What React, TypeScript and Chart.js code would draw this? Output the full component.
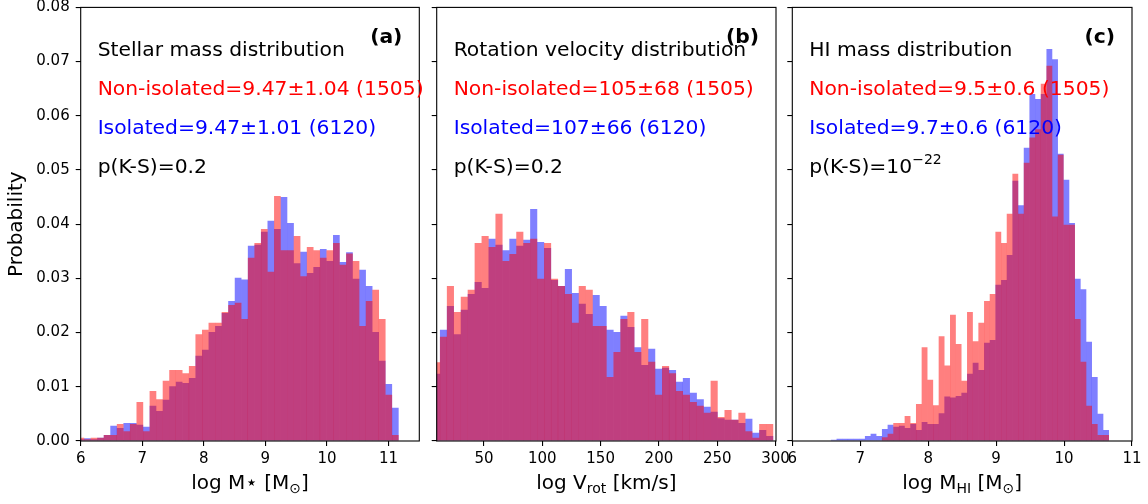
import React, { useEffect, useRef } from 'react';
import { Chart, registerables } from 'chart.js';

Chart.register(...registerables);

const FONT = "'DejaVu Sans', sans-serif";

// ---------- data ----------
// (a) stellar mass histogram
const massBinStart = 5.95;
const massBinWidth = 0.1064;
const massNonIsolated = [
  0.0006, 0.0003, 0.0006, 0.0006, 0.0011, 0.0011, 0.0031, 0.0018, 0.0031, 0.0072,
  0.0018, 0.0092, 0.0077, 0.0111, 0.0131, 0.0131, 0.0125, 0.0138, 0.0197, 0.0205,
  0.0218, 0.0218, 0.0238, 0.0251, 0.0255, 0.0225, 0.0338, 0.0365, 0.0391, 0.0312,
  0.0452, 0.0352, 0.0352, 0.0378, 0.0304, 0.0358, 0.0352, 0.0338, 0.0352, 0.0365,
  0.0325, 0.0346, 0.0332, 0.0212, 0.0258, 0.0279, 0.0225, 0.0085, 0.0011,
];
const massIsolated = [
  0.0003, 0.0005, 0.0003, 0.0006, 0.0011, 0.0028, 0.0024, 0.0033, 0.0033, 0.0030,
  0.0026, 0.0065, 0.0055, 0.0076, 0.0101, 0.0109, 0.0107, 0.0116, 0.0157, 0.0168,
  0.0201, 0.0212, 0.0236, 0.0258, 0.0301, 0.0298, 0.0360, 0.0362, 0.0386, 0.0406,
  0.0391, 0.0450, 0.0402, 0.0328, 0.0349, 0.0310, 0.0321, 0.0354, 0.0332, 0.0380,
  0.0330, 0.0348, 0.0299, 0.0316, 0.0286, 0.0201, 0.0148, 0.0105, 0.0061,
];

// (b) rotation velocity histogram
const vrotBinStart = 6.31;
const vrotBinWidth = 5.952;
const vrotNonIsolated = [
  0.0145, 0.0192, 0.0286, 0.0238, 0.0266, 0.0279, 0.0365, 0.0378, 0.0358, 0.0419,
  0.0332, 0.0345, 0.0386, 0.0365, 0.0373, 0.0299, 0.0365, 0.0299, 0.0286, 0.0271,
  0.0218, 0.0286, 0.0279, 0.0212, 0.0212, 0.0118, 0.0164, 0.0225, 0.0238, 0.0164,
  0.0225, 0.0146, 0.0085, 0.0138, 0.0125, 0.0092, 0.0085, 0.0072, 0.0065, 0.0052,
  0.0111, 0.0044, 0.0057, 0.0039, 0.0052, 0.0018, 0.0006, 0.0031, 0.0031,
];
const vrotIsolated = [
  0.0124, 0.0205, 0.0249, 0.0197, 0.0242, 0.0271, 0.0293, 0.0282, 0.0373, 0.0362,
  0.0352, 0.0373, 0.0360, 0.0371, 0.0428, 0.0367, 0.0356, 0.0297, 0.0286, 0.0317,
  0.0273, 0.0253, 0.0234, 0.0269, 0.0249, 0.0205, 0.0201, 0.0231, 0.0210, 0.0173,
  0.0140, 0.0170, 0.0133, 0.0135, 0.0131, 0.0109, 0.0116, 0.0089, 0.0077, 0.0063,
  0.0054, 0.0042, 0.0039, 0.0039, 0.0033, 0.0041, 0.0015, 0.0020, 0.0009,
];

// (c) HI mass histogram
const hiBinStart = 6.569;
const hiBinWidth = 0.0835;
const hiNonIsolated = [
  0, 0, 0, 0, 0, 0, 0, 0, 0, 0.0007,
  0.0013, 0.0033, 0.0033, 0.0046, 0.0033, 0.0068, 0.0173, 0.0113, 0.0066, 0.0193,
  0.0139, 0.0233, 0.0179, 0.0111, 0.0238, 0.0184, 0.0218, 0.0258, 0.0271, 0.0386,
  0.0365, 0.0419, 0.0493, 0.0419, 0.0513, 0.0560, 0.0575, 0.0659, 0.0692, 0.0414,
  0.0528, 0.0399, 0.0399, 0.0225, 0.0146, 0.0065, 0.0031, 0.0011, 0.0011,
];
const hiIsolated = [
  0.0002, 0.0004, 0.0004, 0.0004, 0.0004, 0.0004, 0.0009, 0.0013, 0.0009, 0.0022,
  0.0030, 0.0026, 0.0028, 0.0024, 0.0031, 0.0020, 0.0035, 0.0031, 0.0031, 0.0051,
  0.0082, 0.0080, 0.0083, 0.0089, 0.0124, 0.0144, 0.0131, 0.0181, 0.0186, 0.0288,
  0.0297, 0.0343, 0.0480, 0.0435, 0.0541, 0.0640, 0.0631, 0.0640, 0.0723, 0.0704,
  0.0530, 0.0482, 0.0402, 0.0299, 0.0280, 0.0183, 0.0118, 0.0050, 0.0020,
];

// axis ranges / ticks
const yMin = 0;
const yMax = 0.08;
const yStep = 0.01;
const massRange = [6, 11.5];
const vrotRange = [9.43, 300.4];
const hiRange = [6, 11];
const massTickStep = 1;
const vrotTickStep = 50;
const hiTickStep = 1;

// texts
const massLines = ['Stellar mass distribution', 'Non-isolated=9.47±1.04 (1505)', 'Isolated=9.47±1.01 (6120)', 'p(K-S)=0.2'];
const vrotLines = ['Rotation velocity distribution', 'Non-isolated=105±68 (1505)', 'Isolated=107±66 (6120)', 'p(K-S)=0.2'];
const hiLines = ['HI mass distribution', 'Non-isolated=9.5±0.6 (1505)', 'Isolated=9.7±0.6 (6120)', 'p(K-S)=10'];
const hiPExponent = '−22';
const yTitle = 'Probability';

// ---------- layout / style ----------
const W = 1148;
const H = 504;
const AREA_TOP = 7.4;
const AREA_BOTTOM = 441;
const Y_AXIS_W = 50;
const X_AXIS_H = 40;
const TEXT_SIZE = 20.3;
const RED = 'rgba(255,0,0,0.5)';
const BLUE = 'rgba(0,0,255,0.5)';
const LINE_COLORS = ['#000000', '#ff0000', '#0000ff', '#000000'];
const LINE_BASELINES = [56, 95, 134, 173];

type Run = { t: string; s: number; dy?: number; bold?: boolean };

function drawRuns(ctx: CanvasRenderingContext2D, x: number, y: number, runs: Run[], align: 'left' | 'center' | 'right', color: string) {
  const widths = runs.map((r) => {
    ctx.font = `${r.bold ? 'bold ' : ''}${r.s}px ${FONT}`;
    return ctx.measureText(r.t).width;
  });
  const total = widths.reduce((a, b) => a + b, 0);
  let cx = align === 'center' ? x - total / 2 : align === 'right' ? x - total : x;
  ctx.textAlign = 'left';
  ctx.textBaseline = 'alphabetic';
  ctx.fillStyle = color;
  runs.forEach((r, i) => {
    ctx.font = `${r.bold ? 'bold ' : ''}${r.s}px ${FONT}`;
    ctx.fillText(r.t, cx, y + (r.dy || 0));
    cx += widths[i];
  });
}

interface PanelDef {
  start: number;
  width: number;
  red: number[];
  blue: number[];
  range: number[];
  step: number;
  left: number;
  right: number;
  showY: boolean;
  letter: string;
  lines: string[];
  exponent?: string;
  xTitle: Run[];
}

const panels: PanelDef[] = [
  {
    start: massBinStart, width: massBinWidth, red: massNonIsolated, blue: massIsolated,
    range: massRange, step: massTickStep, left: 80.7, right: 419.3, showY: true, letter: '(a)', lines: massLines,
    xTitle: [{ t: 'log M', s: 20 }, { t: '⋆', s: 20 }, { t: ' [M', s: 20 }, { t: '⊙', s: 14, dy: 4 }, { t: ']', s: 20 }],
  },
  {
    start: vrotBinStart, width: vrotBinWidth, red: vrotNonIsolated, blue: vrotIsolated,
    range: vrotRange, step: vrotTickStep, left: 436.7, right: 776, showY: false, letter: '(b)', lines: vrotLines,
    xTitle: [{ t: 'log V', s: 20 }, { t: 'rot', s: 14, dy: 4 }, { t: ' [km/s]', s: 20 }],
  },
  {
    start: hiBinStart, width: hiBinWidth, red: hiNonIsolated, blue: hiIsolated,
    range: hiRange, step: hiTickStep, left: 792.3, right: 1132, showY: false, letter: '(c)', lines: hiLines,
    exponent: hiPExponent,
    xTitle: [{ t: 'log M', s: 20 }, { t: 'HI', s: 14, dy: 4 }, { t: ' [M', s: 20 }, { t: '⊙', s: 14, dy: 4 }, { t: ']', s: 20 }],
  },
];

function Panel({ def }: { def: PanelDef }) {
  const ref = useRef<HTMLCanvasElement | null>(null);
  useEffect(() => {
    if (!ref.current) return;
    const centers = def.red.map((_, i) => def.start + (i + 0.5) * def.width);
    const zeroPad = (scale: any) => {
      scale.paddingLeft = 0;
      scale.paddingRight = 0;
      scale.paddingTop = 0;
      scale.paddingBottom = 0;
    };
    const deco = {
      id: 'deco',
      afterDraw(chart: any) {
        const ctx: CanvasRenderingContext2D = chart.ctx;
        const a = chart.chartArea;
        const w = a.right - a.left;
        ctx.save();
        ctx.strokeStyle = '#000';
        ctx.lineWidth = 1.1;
        ctx.strokeRect(a.left, a.top, w, a.bottom - a.top);
        const tx = a.left + 0.05 * w;
        def.lines.forEach((line, i) => {
          const runs: Run[] = [{ t: line, s: TEXT_SIZE }];
          if (i === 3 && def.exponent) runs.push({ t: def.exponent, s: 14, dy: -9 });
          drawRuns(ctx, tx, LINE_BASELINES[i], runs, 'left', LINE_COLORS[i]);
        });
        drawRuns(ctx, a.right - 0.05 * w, 43, [{ t: def.letter, s: TEXT_SIZE, bold: true }], 'right', '#000');
        drawRuns(ctx, (a.left + a.right) / 2, 489, def.xTitle, 'center', '#000');
        if (def.showY) {
          ctx.save();
          ctx.translate(22, (a.top + a.bottom) / 2);
          ctx.rotate(-Math.PI / 2);
          drawRuns(ctx, 0, 0, [{ t: yTitle, s: 20 }], 'center', '#000');
          ctx.restore();
        }
        ctx.restore();
      },
    };
    const barStyle = {
      borderWidth: 0,
      barPercentage: 1,
      categoryPercentage: 1,
      grouped: false,
      inflateAmount: 0.08,
    };
    const chart = new Chart(ref.current, {
      type: 'bar',
      data: {
        datasets: [
          { data: centers.map((x, i) => ({ x, y: def.red[i] })), backgroundColor: RED, ...barStyle } as any,
          { data: centers.map((x, i) => ({ x, y: def.blue[i] })), backgroundColor: BLUE, ...barStyle } as any,
        ],
      },
      options: {
        responsive: false,
        animation: false,
        events: [],
        layout: {
          padding: {
            left: def.left - Y_AXIS_W,
            right: W - def.right,
            top: AREA_TOP,
            bottom: H - AREA_BOTTOM - X_AXIS_H,
          },
        },
        plugins: { legend: { display: false }, tooltip: { enabled: false }, title: { display: false } },
        scales: {
          x: {
            type: 'linear',
            min: def.range[0],
            max: def.range[1],
            offset: false,
            grid: { display: true, offset: false, drawOnChartArea: false, drawTicks: true, tickLength: 5, color: '#000', lineWidth: 1.1 },
            border: { display: false },
            ticks: {
              stepSize: def.step,
              includeBounds: false,
              autoSkip: false,
              maxRotation: 0,
              padding: 4,
              color: '#000',
              font: { family: FONT, size: 15 },
              callback: (v: any) => String(Math.round(Number(v))),
            },
            afterFit: (scale: any) => {
              zeroPad(scale);
              scale.height = X_AXIS_H;
            },
          },
          y: {
            type: 'linear',
            min: yMin,
            max: yMax,
            grid: { display: true, drawOnChartArea: false, drawTicks: true, tickLength: 5, color: '#000', lineWidth: 1.1 },
            border: { display: false },
            ticks: {
              stepSize: yStep,
              includeBounds: false,
              padding: 6,
              color: def.showY ? '#000' : 'rgba(0,0,0,0)',
              font: { family: FONT, size: 15 },
              callback: (v: any) => Number(v).toFixed(2),
            },
            afterFit: (scale: any) => {
              zeroPad(scale);
              scale.width = Y_AXIS_W;
            },
          },
        },
      } as any,
      plugins: [deco],
    });
    return () => chart.destroy();
  }, [def]);
  return (
    <canvas
      ref={ref}
      width={W}
      height={H}
      style={{ position: 'absolute', left: 0, top: 0, width: W, height: H }}
    />
  );
}

export default function App() {
  return (
    <div style={{ position: 'absolute', left: 0, top: 0, width: W, height: H, background: '#fff', overflow: 'hidden' }}>
      {panels.map((p, i) => (
        <Panel key={i} def={p} />
      ))}
    </div>
  );
}
